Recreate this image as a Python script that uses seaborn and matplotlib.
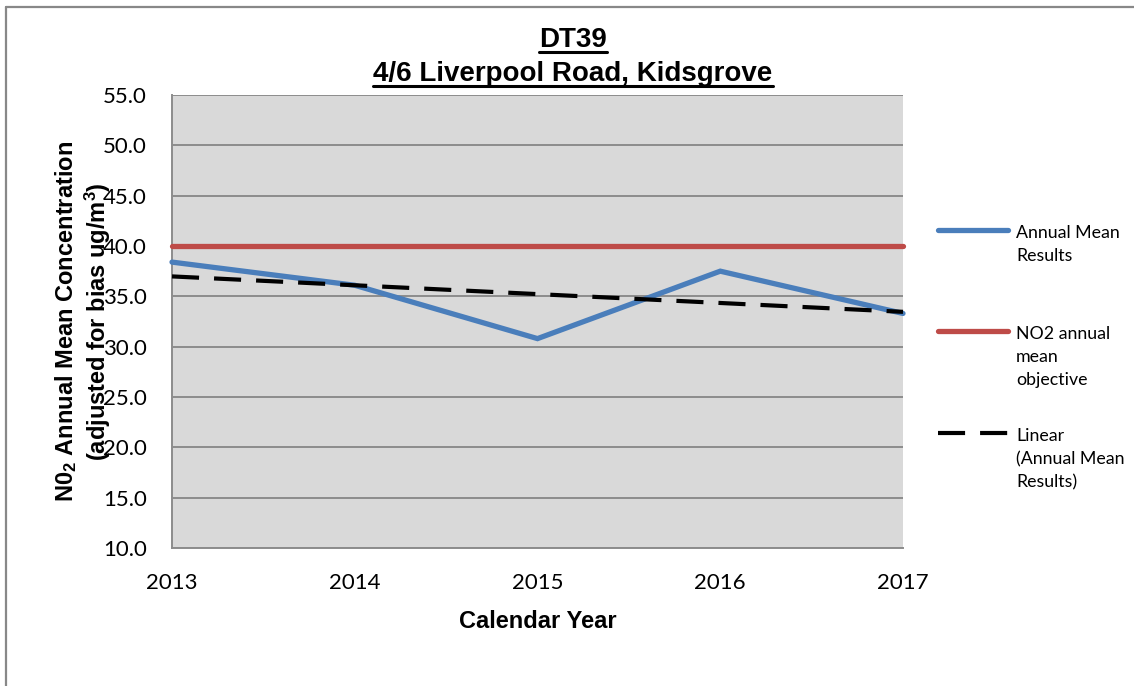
import numpy as np
import matplotlib
matplotlib.use("Agg")
import matplotlib.pyplot as plt
from matplotlib.lines import Line2D
from matplotlib.ticker import FormatStrFormatter
import seaborn as sns

# Monitoring site DT39 - annual mean NO2 (bias adjusted)
years = [2013, 2014, 2015, 2016, 2017]
annual_mean = [38.4, 36.1, 30.8, 37.5, 33.3]
objective = [40.0, 40.0, 40.0, 40.0, 40.0]
y_ticks = [10, 15, 20, 25, 30, 35, 40, 45, 50, 55]

legend_labels = [
    "Annual Mean\nResults",
    "NO2 annual\nmean\nobjective",
    "Linear\n(Annual Mean\nResults)",
]

BLUE = "#4A7EBB"
RED = "#BE4B48"
GRID = "#8C8C8C"
PLOT_BG = "#D9D9D9"

sns.set_theme(style="white", rc={"axes.facecolor": PLOT_BG})
plt.rcParams["font.family"] = ["Lato", "DejaVu Sans"]
plt.rcParams["text.color"] = "black"
plt.rcParams["axes.labelcolor"] = "black"
plt.rcParams["xtick.labelcolor"] = "black"
plt.rcParams["ytick.labelcolor"] = "black"
plt.rcParams["mathtext.fontset"] = "custom"
plt.rcParams["mathtext.rm"] = "Liberation Sans:bold"
plt.rcParams["mathtext.it"] = "Liberation Sans:bold"
plt.rcParams["mathtext.bf"] = "Liberation Sans:bold"
plt.rcParams["mathtext.default"] = "rm"

W, H = 1134, 686
fig = plt.figure(figsize=(W / 100, H / 100), dpi=100)
fig.patch.set_facecolor("white")
ax = fig.add_axes([172 / W, 1 - 548 / H, 731 / W, 453 / H])
ax.set_facecolor(PLOT_BG)

# objective, measured series and linear trend of the measured series
sns.lineplot(x=years, y=objective, ax=ax, color=RED, lw=3.8,
             solid_capstyle="round", clip_on=False, zorder=3)
sns.lineplot(x=years, y=annual_mean, ax=ax, color=BLUE, lw=3.8,
             solid_capstyle="round", solid_joinstyle="miter", clip_on=False, zorder=4)
sns.regplot(x=years, y=annual_mean, ax=ax, scatter=False, ci=None, truncate=True,
            line_kws=dict(color="black", lw=3.0, dashes=(6.5, 3.6), zorder=5,
                          clip_on=False))

ax.set_xlim(2013, 2017)
ax.set_ylim(10, 55)
ax.set_xticks(years)
ax.set_xticklabels([str(y) for y in years])
ax.set_yticks(y_ticks)
ax.yaxis.set_major_formatter(FormatStrFormatter("%.1f"))

ax.yaxis.grid(True, color=GRID, lw=1.4)
ax.xaxis.grid(False)
ax.set_axisbelow(True)
for side in ("top", "right"):
    ax.spines[side].set_visible(False)
for side in ("left", "bottom"):
    ax.spines[side].set_color(GRID)
    ax.spines[side].set_linewidth(1.4)
ax.tick_params(axis="both", direction="out", length=5, width=1.4, color=GRID,
               labelsize=16, labelcolor="black")
ax.tick_params(axis="x", pad=13)
ax.tick_params(axis="y", pad=13)

ax.set_xlabel("Calendar Year", fontsize=17, fontweight="bold",
              family="Liberation Sans", labelpad=12, color="black")
ax.set_ylabel("N0$_2$ Annual Mean Concentration\n(adjusted for bias ug/m$^3$)",
              fontsize=17, fontweight="bold", family="Liberation Sans",
              linespacing=1.2, color="black")
ax.yaxis.set_label_coords((83 - 172) / 731, 0.5)
ax.yaxis.label.set_verticalalignment("center")

# two-line underlined title
t1 = fig.text(573 / W, 1 - 47 / H, "DT39", ha="center", va="baseline",
              fontsize=20, fontweight="bold", family="Liberation Sans", color="black")
t2 = fig.text(573 / W, 1 - 81 / H, "4/6 Liverpool Road, Kidsgrove", ha="center",
              va="baseline", fontsize=20, fontweight="bold", family="Liberation Sans",
              color="black")

# legend entries at the right of the plot: key line beside the first text line
entries = [
    (legend_labels[0], dict(color=BLUE, lw=3.8, solid_capstyle="round"), 230),
    (legend_labels[1], dict(color=RED, lw=3.8, solid_capstyle="round"), 331),
    (legend_labels[2], dict(color="black", lw=3.0, dashes=(6.5, 3.6)), 433),
]
for label, style, yy in entries:
    fig.add_artist(Line2D([938 / W, 1008 / W], [1 - yy / H] * 2,
                          transform=fig.transFigure, **style))
    for i, line in enumerate(label.split("\n")):
        fig.text(1016 / W, 1 - (yy + 8 + 23 * i) / H, line, ha="left",
                 va="baseline", fontsize=12.8, color="black")

# chart frame (left and top edges)
fig.add_artist(Line2D([6 / W, 6 / W], [0, 1 - 7 / H], transform=fig.transFigure,
                      color="#888888", lw=1.6))
fig.add_artist(Line2D([6 / W, 1], [1 - 7 / H, 1 - 7 / H], transform=fig.transFigure,
                      color="#888888", lw=1.6))

# underline the title lines
fig.canvas.draw()
renderer = fig.canvas.get_renderer()
for t, uy in ((t1, 52), (t2, 86)):
    bb = t.get_window_extent(renderer)
    fig.add_artist(Line2D([bb.x0 / W, bb.x1 / W], [1 - uy / H] * 2,
                          transform=fig.transFigure, color="black", lw=2.2))

fig.savefig("out.png", dpi=100, facecolor="white")
